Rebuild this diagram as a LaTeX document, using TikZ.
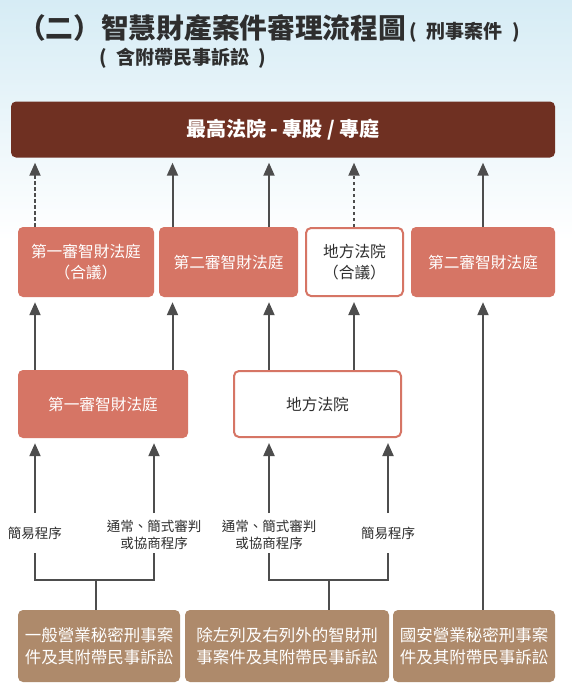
\documentclass[tikz,border=0pt]{standalone}
\usepackage{fontspec}
\setmainfont{Noto Sans CJK TC}
\usetikzlibrary{arrows.meta}

\definecolor{courtbrown}{HTML}{6F3022}
\definecolor{salmon}{HTML}{D67565}
\definecolor{sand}{HTML}{AE8A6B}
\definecolor{linegray}{HTML}{4D4D4D}
\definecolor{skywash}{HTML}{D6ECF5}
\definecolor{inkgray}{HTML}{2E2E2E}

\begin{document}
\begin{tikzpicture}[x=1pt, y=-1pt,
    box/.style={rounded corners=5pt, inner sep=0pt, align=center,
      font=\fontsize{15.7}{21}\selectfont},
    court/.style={box, fill=salmon, text=white},
    local/.style={box, fill=white, draw=salmon, line width=2pt, text=inkgray},
    casebox/.style={box, fill=sand, text=white, font=\fontsize{16.5}{22.5}\selectfont},
    conn/.style={linegray, line width=2pt},
    arr/.style={conn, shorten >=5pt, -{Triangle[length=13pt, width=11pt]}},
    darr/.style={arr, dash pattern=on 3.5pt off 2.5pt},
    note/.style={text=inkgray, align=center, font=\fontsize{13.5}{17}\selectfont}]

  % Page and sky wash
  \useasboundingbox (0,0) rectangle (572,691);
  \fill[white] (0,0) rectangle (572,691);
  \shade[top color=skywash, bottom color=white] (0,0) rectangle (572,240);

  % Title
  \node[anchor=west, inner sep=0pt, text=inkgray,
        font=\fontsize{27.7}{30}\bfseries\selectfont] (title) at (18,28)
        {（二）智慧財產案件審理流程圖};
  \node[anchor=base west, inner sep=0pt, text=inkgray,
        font=\fontsize{19}{22}\bfseries\selectfont] (titletag) at ([xshift=3pt]title.base east)
        {(\hspace{0.5em}刑事案件\hspace{0.5em})};
  \node[anchor=west, inner sep=0pt, text=inkgray,
        font=\fontsize{19}{22}\bfseries\selectfont] (subtitle) at (99,58)
        {(\hspace{0.5em}含附帶民事訴訟\hspace{0.5em})};

  % Supreme court
  \node[box, fill=courtbrown, text=white, minimum width=544pt, minimum height=56pt,
        font=\fontsize{20}{24}\bfseries\selectfont] (supreme) at (283,129.5)
        {最高法院 - 專股 / 專庭};

  % Second row
  \node[court, minimum width=136pt, minimum height=70pt] (ipfirst) at (86,262)
        {第一審智財法庭\\（合議）};
  \node[court, minimum width=139pt, minimum height=70pt] (ipsecond) at (228.5,262)
        {第二審智財法庭};
  \node[local, minimum width=97pt, minimum height=68pt] (localpanel) at (354.5,262)
        {地方法院\\（合議）};
  \node[court, minimum width=144pt, minimum height=70pt] (ipsecondb) at (483,262)
        {第二審智財法庭};

  % Third row
  \node[court, minimum width=170pt, minimum height=68pt] (ipfirstb) at (103,404)
        {第一審智財法庭};
  \node[local, minimum width=167pt, minimum height=66pt] (localcourt) at (317.5,404)
        {地方法院};

  % Case types
  \node[casebox, minimum width=162pt, minimum height=72pt] (tradesecret) at (99,646)
        {一般營業秘密刑事案\\件及其附帶民事訴訟};
  \node[casebox, minimum width=204pt, minimum height=72pt] (otherip) at (287,646)
        {除左列及右列外的智財刑\\事案件及其附帶民事訴訟};
  \node[casebox, minimum width=162pt, minimum height=72pt] (nationalsec) at (474,646)
        {國安營業秘密刑事案\\件及其附帶民事訴訟};

  % Procedure labels
  \node[note] (simplea) at (35,533) {簡易程序};
  \node[note] (regulara) at (154,534.5) {通常、簡式審判\\或協商程序};
  \node[note] (regularb) at (269,534.5) {通常、簡式審判\\或協商程序};
  \node[note] (simpleb) at (388,533) {簡易程序};

  % Columns
  \coordinate (c1) at (35,0);
  \coordinate (c2) at (172.5,0);
  \coordinate (c3) at (269,0);
  \coordinate (c4) at (354,0);
  \coordinate (c5) at (483,0);

  % Up to the supreme court
  \draw[darr] (ipfirst.north -| c1) -- (supreme.south -| c1);
  \draw[arr] (ipsecond.north -| c2) -- (supreme.south -| c2);
  \draw[arr] (ipsecond.north -| c3) -- (supreme.south -| c3);
  \draw[darr] (localpanel.north -| c4) -- (supreme.south -| c4);
  \draw[arr] (ipsecondb.north -| c5) -- (supreme.south -| c5);

  % Up to the second row
  \draw[arr] (ipfirstb.north -| c1) -- (ipfirst.south -| c1);
  \draw[arr] (ipfirstb.north -| c2) -- (ipsecond.south -| c2);
  \draw[arr] (localcourt.north -| c3) -- (ipsecond.south -| c3);
  \draw[arr] (localcourt.north -| c4) -- (localpanel.south -| c4);
  \draw[arr] (nationalsec.north -| c5) -- (ipsecondb.south -| c5);

  % Procedures up to the third row
  \coordinate (froma) at (35,513);
  \coordinate (fromb) at (154,513);
  \coordinate (fromc) at (269,513);
  \coordinate (fromd) at (388,513);
  \draw[arr] (froma) -- (froma |- ipfirstb.south);
  \draw[arr] (fromb) -- (fromb |- ipfirstb.south);
  \draw[arr] (fromc) -- (fromc |- localcourt.south);
  \draw[arr] (fromd) -- (fromd |- localcourt.south);

  % Brackets
  \coordinate (lega) at (35,553);
  \coordinate (legb) at (154,553);
  \coordinate (forka) at (95.6,580);
  \draw[conn] (lega) |- (forka) -| (legb);
  \draw[conn] (forka) -- (forka |- tradesecret.north);

  \coordinate (legc) at (269,553);
  \coordinate (legd) at (388,553);
  \coordinate (forkb) at (329,580);
  \draw[conn] (legc) |- (forkb) -| (legd);
  \draw[conn] (forkb) -- (forkb |- otherip.north);

\end{tikzpicture}
\end{document}
